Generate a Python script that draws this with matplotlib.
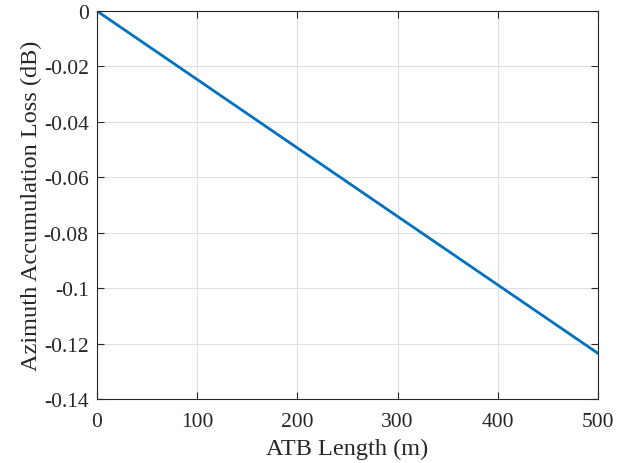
import numpy as np
import matplotlib.pyplot as plt

plt.rcParams['font.family'] = ['Liberation Serif', 'DejaVu Serif']

atb_length = [0, 100, 200, 300, 400, 500]
acc_loss = [0, -0.0247, -0.0494, -0.0741, -0.0988, -0.1235]

fig = plt.figure(figsize=(6.28, 4.64), dpi=100)
ax = fig.add_axes([0.1545, 0.138, 0.7975, 0.836])
ax.plot(atb_length, acc_loss, color='#0072BD', lw=2)

ax.set_xlim(0, 500)
ax.set_ylim(-0.14, 0)
ax.set_xticks([0, 100, 200, 300, 400, 500])
ax.set_yticks(np.arange(-0.14, 0.001, 0.02))
ax.set_yticklabels(['-0.14', '-0.12', '-0.1', '-0.08', '-0.06', '-0.04', '-0.02', '0'])
ax.grid(True, color='#dfdfdf', lw=0.8)
ax.set_axisbelow(True)
ax.tick_params(direction='in', top=True, right=True, labelsize=15.5, colors='#262626',
               length=5, width=0.8, pad=6)
ax.tick_params(axis='x', pad=9.5)
for s in ax.spines.values():
    s.set_color('#262626')
    s.set_linewidth(0.8)

ax.set_xlabel('ATB Length (m)', fontsize=17.5, color='#262626', labelpad=5)
ax.set_ylabel('Azimuth Accumulation Loss (dB)', fontsize=17.5, color='#262626', labelpad=1)

plt.savefig('out.png', dpi=100)
